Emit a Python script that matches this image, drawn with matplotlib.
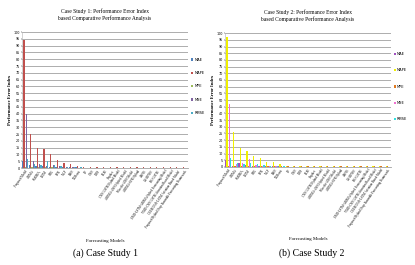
import numpy as np
import matplotlib.pyplot as plt

# model names (too small to read in the source; approximated)
models = ["Proposed Model", "ARIMA", "SARIMA", "LSTM", "GRU", "SVR", "MLP", "RNN",
          "XGBoost", "RF", "CNN", "DBN", "ELM", "Prophet", "CNN-LSTM Hybrid Model",
          "ARIMA-ANN Hybrid Model", "Wavelet-ANN Model", "ARIMA-SVR Hybrid", "ANFIS",
          "GA-BPNN", "PSO-LSTM", "EMD-LSTM-ARIMA Hybrid Forecasting Model",
          "VMD-CNN-LSTM Attention Based Model", "CEEMDAN-LSTM Attention Based Model",
          "Proposed Hybrid Deep Ensemble Forecasting Framework"]
metrics = ["MAE", "MAPE", "MPE", "MSE", "RMSE"]

# case study 1
cs1_mae = [5, 2, 1.5, 1.2, 1.0, 0.8, 0.6, 0.5, 0.4] + [0.3] * 16
cs1_mape = [94, 25, 15, 14, 10, 6, 3.5, 3, 1.5] + [0.4] * 16
cs1_mpe = [1, 0.8, 0.6, 0.5, 0.4, 0.3, 0.3, 0.2, 0.2] + [0.2] * 16
cs1_mse = [40, 5.5, 3, 1.5, 2.5, 1.5, 0.8, 0.5, 0.3] + [0.2] * 16
cs1_rmse = [6.5, 3, 2, 5, 2.5, 1.5, 1, 0.7, 0.5] + [0.3] * 16

# case study 2
cs2_mae = [5, 1, 3, 1.5, 1, 0.8, 0.6, 0.5, 0.4] + [0.3] * 16
cs2_mape = [97, 26, 14, 12, 8, 6.5, 4, 4, 2.5] + [0.5] * 16
cs2_mpe = [1, 0.8, 0.7, 0.6, 0.5, 0.5, 0.5, 0.5, 0.5] + [0.5] * 16
cs2_mse = [47, 2, 3, 6, 1.5, 1, 0.6, 0.5, 0.3] + [0.2] * 16
cs2_rmse = [7, 3, 2, 3, 2, 1.5, 1, 1, 0.5] + [0.3] * 16

colors1 = ["#4f81bd", "#c0504d", "#9bbb59", "#8064a2", "#4bacc6"]
colors2 = ["#a050c0", "#f0f000", "#e07a20", "#f070d0", "#30e0e0"]

fig = plt.figure(figsize=(4.15, 2.65), dpi=100)
serif = "Liberation Serif"


def draw(ax, series, colors, title, legend_space):
    x = np.arange(len(models))
    w = 0.19
    for i, (vals, c, name) in enumerate(zip(series, colors, metrics)):
        ax.bar(x + (i - 2) * w, vals, w, color=c, label=name, zorder=3, lw=0)
    ax.set_ylim(0, 100)
    ax.set_yticks(np.arange(0, 101, 5))
    ax.tick_params(axis="y", labelsize=2.4, length=1, width=0.3, pad=0.5)
    ax.set_xlim(-0.5, len(models) - 0.5)
    ax.set_xticks(x)
    ax.set_xticklabels(models, rotation=55, ha="right", rotation_mode="anchor",
                       fontsize=2.2, family=serif)
    ax.tick_params(axis="x", length=0, pad=1)
    ax.yaxis.grid(True, color="#a0a0a0", lw=0.6, zorder=0)
    for s in ["top", "right"]:
        ax.spines[s].set_visible(False)
    ax.spines["left"].set_color("#b0b0b0")
    ax.spines["left"].set_linewidth(0.4)
    ax.spines["bottom"].set_color("#a0a0a0")
    ax.spines["bottom"].set_linewidth(0.6)
    ax.set_title(title, fontsize=4, family=serif, pad=9)
    ax.set_xlabel("Forecasting Models", fontsize=3.5, family=serif)
    ax.xaxis.set_label_coords(0.5, -0.52)
    ax.set_ylabel("Performance Error Index", fontsize=3.3, family=serif,
                  fontweight="bold", labelpad=1)
    ax.legend(loc="center left", bbox_to_anchor=(1.0, 0.6), frameon=False,
              fontsize=2.6, handlelength=0.5, handleheight=0.6,
              labelspacing=legend_space, handletextpad=0.3)


ax1 = fig.add_axes([0.053, 0.366, 0.40, 0.513])
draw(ax1, [cs1_mae, cs1_mape, cs1_mpe, cs1_mse, cs1_rmse], colors1,
     "Case Study 1: Performance Error Index\nbased Comparative Performance Analysis", 2.6)
ax2 = fig.add_axes([0.542, 0.37, 0.40, 0.505])
draw(ax2, [cs2_mae, cs2_mape, cs2_mpe, cs2_mse, cs2_rmse], colors2,
     "Case Study 2: Performance Error Index\nbased Comparative Performance Analysis", 3.4)

fig.text(0.255, 0.035, "(a) Case Study 1", ha="center", fontsize=7, family=serif)
fig.text(0.75, 0.035, "(b) Case Study 2", ha="center", fontsize=7, family=serif)

fig.savefig("out.png", dpi=100)
